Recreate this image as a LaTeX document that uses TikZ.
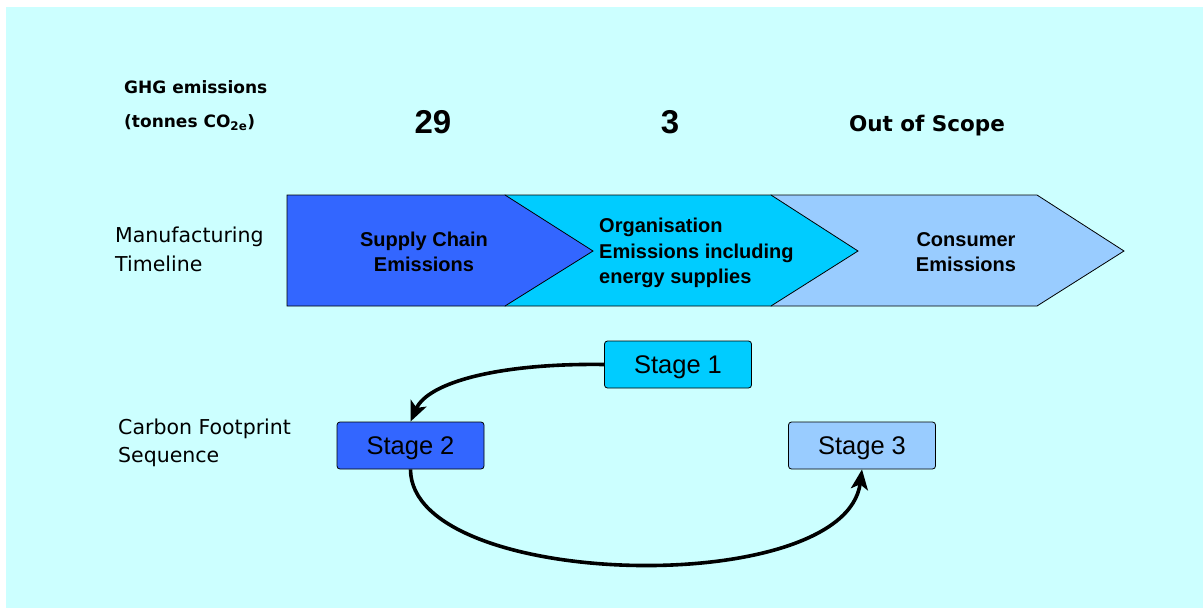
\documentclass[tikz,border=0pt]{standalone}
\usepackage{fontspec}
\setmainfont{Liberation Sans}
\newfontfamily\comic{DejaVu Sans}
\usetikzlibrary{arrows.meta}
\definecolor{bgcyan}{HTML}{CCFFFF}
\definecolor{cdark}{HTML}{3366FF}
\definecolor{cmid}{HTML}{00CCFF}
\definecolor{clight}{HTML}{99CCFF}
\tikzset{
  chev/.style={draw=black, line width=0.8pt, line join=miter},
  chevtext/.style={font=\bfseries\fontsize{20}{25.5}\selectfont, inner sep=0pt},
  stagebox/.style={draw=black, line width=0.8pt, rounded corners=3pt, minimum width=147pt, minimum height=47pt, inner sep=0pt, text height=18pt, text depth=0pt, font=\fontsize{25.5}{30}\selectfont},
  comiclbl/.style={inner sep=0pt, align=left, anchor=west},
  flow/.style={line width=3.6pt, -{Stealth[length=20pt,width=17pt,inset=5pt]}},
}
\begin{document}
\begin{tikzpicture}[x=1pt,y=-1pt]
\useasboundingbox (0,0) rectangle (1203,608);
\fill[white] (0,0) rectangle (1203,608);
\fill[bgcyan] (6,7) rectangle (1203,608);

% chevrons
\filldraw[chev, fill=clight] (771,195) -- (1037,195) -- (1124,251) -- (1037,306) -- (771,306) -- cycle;
\filldraw[chev, fill=cmid] (505,195) -- (771,195) -- (858,251) -- (771,306) -- (505,306) -- cycle;
\filldraw[chev, fill=cdark] (287,195) -- (505,195) -- (593,251) -- (505,306) -- (287,306) -- cycle;

\node[chevtext, align=center] (supply) at (424,252) {Supply Chain\\Emissions};
\node[chevtext, align=left, anchor=west] (org) at (599,253) {Organisation\\Emissions including\\energy supplies};
\node[chevtext, align=center] (cons) at (966,252) {Consumer\\Emissions};

% left labels
\node[comiclbl, font=\comic\bfseries\fontsize{17}{34}\selectfont] (ghg) at (124,106) {GHG emissions\\(tonnes CO\textsubscript{2e})};
\node[comiclbl, font=\comic\fontsize{20.5}{29}\selectfont] (manu) at (115,249) {Manufacturing\\Timeline};
\node[comiclbl, font=\comic\fontsize{20.5}{28}\selectfont] (carb) at (118,443) {Carbon Footprint\\Sequence};

% numbers
\node[inner sep=0pt, font=\bfseries\fontsize{33}{36}\selectfont] (n29) at (433,122) {29};
\node[inner sep=0pt, font=\bfseries\fontsize{33}{36}\selectfont] (n3) at (670,122) {3};
\node[inner sep=0pt, font=\comic\bfseries\fontsize{21.5}{24}\selectfont] (oos) at (927,126) {Out of Scope};

% stages
\node[stagebox, fill=cmid] (s1) at (678,364.5) {Stage 1};
\node[stagebox, fill=cdark] (s2) at (410.5,445.5) {Stage 2};
\node[stagebox, fill=clight] (s3) at (862,445.5) {Stage 3};

\draw[flow] (s1.west) .. controls (500,363) and (428,382) .. (s2.north);
\draw[flow] (s2.south) .. controls (411,590) and (845,600) .. (s3.south);
\end{tikzpicture}
\end{document}
